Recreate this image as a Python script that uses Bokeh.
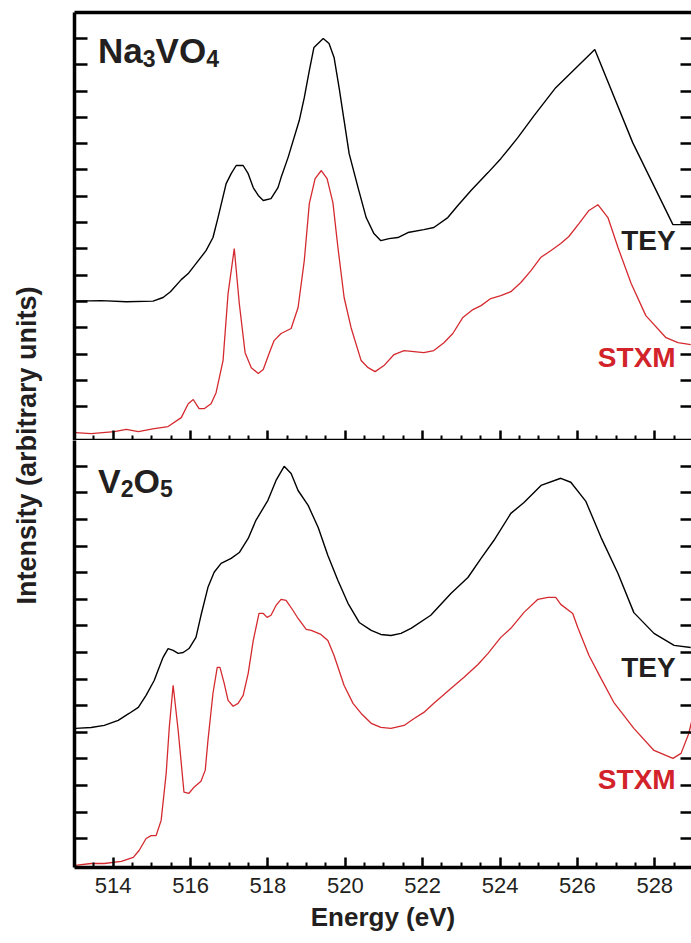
import numpy as np
from bokeh.plotting import figure
from bokeh.layouts import row, column
from bokeh.models import Range1d, FixedTicker, LinearAxis, Label, CustomJSTickFormatter
from bokeh.embed import file_html
from bokeh.resources import INLINE

# ---- axis ticks -------------------------------------------------------------
energy_ticks = [514, 516, 518, 520, 522, 524, 526, 528]
energy_minor = [float(e) for e in np.arange(513.5, 529.0, 0.5) if e not in energy_ticks]
intensity_ticks = list(range(15))

# ---- Na3VO4 spectra (energy in eV, intensity in arbitrary units) -----------
na_tey_e = [513.02, 513.69, 514.34, 515.03, 515.29, 515.48, 515.76, 515.94, 516.14, 516.40,
            516.58, 516.71, 516.92, 517.05, 517.18, 517.36, 517.49, 517.62, 517.75, 517.88,
            518.08, 518.26, 518.34, 518.52, 518.81, 518.94, 519.07, 519.19, 519.43, 519.58,
            519.71, 519.84, 519.97, 520.10, 520.33, 520.54, 520.74, 520.92, 521.13, 521.36,
            521.62, 522.03, 522.29, 522.65, 522.91, 523.25, 523.69, 524.02, 524.46, 524.88,
            525.44, 526.45, 527.43, 528.47, 528.96]
na_tey_i = [4.01, 4.03, 3.99, 4.01, 4.15, 4.37, 4.83, 5.06, 5.44, 5.93,
            6.43, 7.19, 8.48, 8.86, 9.17, 9.17, 8.86, 8.33, 8.03, 7.84,
            7.91, 8.33, 8.71, 9.47, 10.88, 11.75, 12.78, 13.66, 14.00, 13.81,
            13.28, 12.13, 10.88, 9.62, 8.33, 7.19, 6.58, 6.31, 6.39, 6.43,
            6.62, 6.73, 6.81, 7.19, 7.65, 8.22, 8.90, 9.43, 10.23, 11.07,
            12.13, 13.58, 10.04, 6.92, 6.92]

na_stxm_e = [513.02, 513.43, 514.03, 514.34, 514.65, 515.06, 515.42, 515.76, 515.94, 516.07,
             516.22, 516.35, 516.53, 516.66, 516.84, 516.97, 517.13, 517.26, 517.41, 517.57,
             517.75, 517.88, 518.03, 518.16, 518.34, 518.60, 518.78, 518.94, 519.07, 519.22,
             519.38, 519.53, 519.68, 519.81, 519.97, 520.15, 520.41, 520.59, 520.77, 521.00,
             521.26, 521.52, 522.03, 522.29, 522.55, 522.78, 523.04, 523.30, 523.51, 523.76,
             524.02, 524.28, 524.54, 524.80, 525.05, 525.31, 525.57, 525.78, 526.04, 526.30,
             526.53, 526.79, 527.05, 527.39, 527.77, 528.29, 528.60, 528.93]
na_stxm_i = [-0.99, -1.03, -0.95, -0.87, -0.95, -0.84, -0.76, -0.42, 0.11, 0.27,
             -0.08, -0.08, 0.11, 0.53, 1.75, 4.30, 6.01, 3.92, 2.05, 1.48,
             1.26, 1.41, 2.02, 2.51, 2.78, 2.97, 3.77, 5.55, 7.72, 8.67,
             8.98, 8.67, 7.76, 6.05, 4.15, 3.00, 1.75, 1.48, 1.33, 1.56,
             1.98, 2.13, 2.05, 2.13, 2.43, 2.78, 3.39, 3.69, 3.84, 4.11,
             4.22, 4.37, 4.72, 5.17, 5.67, 5.93, 6.20, 6.47, 6.96, 7.46,
             7.68, 7.19, 6.05, 4.68, 3.46, 2.62, 2.43, 2.36]

# ---- V2O5 spectra -----------------------------------------------------------
v_tey_e = [513.02, 513.43, 513.77, 514.13, 514.41, 514.65, 514.85, 515.06, 515.16, 515.29,
           515.42, 515.55, 515.68, 515.81, 515.96, 516.14, 516.27, 516.45, 516.61, 516.79,
           517.05, 517.26, 517.49, 517.69, 518.00, 518.21, 518.42, 518.60, 518.78, 519.04,
           519.30, 519.55, 519.81, 520.07, 520.36, 520.67, 520.92, 521.18, 521.44, 521.70,
           522.21, 522.73, 523.17, 523.51, 523.84, 524.28, 524.62, 525.06, 525.57, 525.83,
           526.22, 526.61, 527.05, 527.46, 527.98, 528.50, 528.93]
v_tey_i = [4.15, 4.18, 4.26, 4.45, 4.71, 4.94, 5.39, 5.95, 6.33, 6.82,
           7.15, 7.08, 6.97, 7.00, 7.15, 7.57, 8.40, 9.45, 10.02, 10.35,
           10.54, 10.76, 11.29, 11.97, 12.72, 13.47, 14.00, 13.73, 13.09, 12.53,
           11.70, 10.65, 9.71, 8.85, 8.13, 7.83, 7.68, 7.64, 7.72, 7.91,
           8.40, 9.22, 9.82, 10.54, 11.21, 12.23, 12.64, 13.28, 13.55, 13.40,
           12.68, 11.33, 9.97, 8.50, 7.72, 7.27, 7.19]

v_stxm_e = [513.02, 513.43, 513.77, 514.21, 514.52, 514.67, 514.85, 514.98, 515.11, 515.24,
            515.37, 515.45, 515.55, 515.68, 515.83, 515.96, 516.09, 516.27, 516.38, 516.45,
            516.58, 516.69, 516.76, 516.87, 516.97, 517.10, 517.23, 517.36, 517.49, 517.62,
            517.77, 517.88, 517.98, 518.08, 518.21, 518.34, 518.47, 518.65, 518.78, 518.99,
            519.12, 519.37, 519.55, 519.71, 519.97, 520.20, 520.41, 520.67, 520.92, 521.18,
            521.52, 521.78, 522.03, 522.29, 522.73, 523.07, 523.43, 523.69, 524.02, 524.28,
            524.62, 524.98, 525.24, 525.44, 525.57, 525.88, 526.01, 526.30, 526.61, 526.94,
            527.46, 527.98, 528.47, 528.68, 528.88, 528.96]
v_stxm_i = [-1.00, -0.93, -0.93, -0.85, -0.70, -0.44, 0.01, 0.12, 0.12, 0.69,
            2.46, 4.18, 5.77, 4.07, 1.75, 1.71, 1.94, 2.16, 2.58, 3.70,
            5.47, 6.44, 6.44, 5.84, 5.20, 4.98, 5.09, 5.39, 6.22, 7.45,
            8.47, 8.47, 8.32, 8.40, 8.77, 9.00, 8.96, 8.58, 8.28, 7.87,
            7.83, 7.68, 7.45, 6.89, 5.76, 5.09, 4.71, 4.34, 4.19, 4.15,
            4.26, 4.52, 4.75, 5.09, 5.65, 6.07, 6.55, 6.97, 7.57, 7.91,
            8.51, 9.00, 9.07, 9.07, 8.81, 8.47, 7.94, 6.89, 6.03, 5.13,
            4.15, 3.32, 3.02, 3.21, 3.96, 4.45]

# ---- styling ----------------------------------------------------------------
FONT = "Liberation Sans"
INK = "#231f20"
RED = "#d2232a"
LINE_RED = "#d42a2f"
SPINE_W = 3.5
X_RANGE = (513.0, 528.95)
PANEL_W = 645
LEFT_GAP = 28

blank = CustomJSTickFormatter(code="return ''")


def bare_axis(ticker, tick_in, minor_in=0, line=True):
    return LinearAxis(
        ticker=ticker, formatter=blank,
        major_tick_in=tick_in, major_tick_out=0,
        minor_tick_in=minor_in, minor_tick_out=0,
        major_tick_line_width=2.5, minor_tick_line_width=2,
        major_tick_line_color="black", minor_tick_line_color="black",
        major_label_text_font_size="0px", major_label_standoff=0,
        axis_line_width=SPINE_W, axis_line_color="black" if line else None,
    )


def panel(height, y_range, border_top, border_bottom):
    p = figure(width=PANEL_W, height=height,
               x_range=Range1d(*X_RANGE), y_range=Range1d(*y_range),
               output_backend="svg", toolbar_location=None,
               x_axis_location=None, y_axis_location=None,
               min_border_left=LEFT_GAP, min_border_right=0,
               min_border_top=border_top, min_border_bottom=border_bottom)
    p.outline_line_color = None
    p.grid.visible = False
    p.background_fill_color = "white"
    p.border_fill_color = "white"
    p.add_layout(bare_axis(FixedTicker(ticks=intensity_ticks), 13), "left")
    p.add_layout(bare_axis(FixedTicker(ticks=intensity_ticks), 11, line=False), "right")
    return p


def tag(p, x, y, text, color, size="28px", align="right"):
    p.add_layout(Label(x=x, y=y, text=text, text_align=align, text_baseline="alphabetic",
                       text_font=FONT, text_font_size=size, text_font_style="bold",
                       text_color=color))


# advance widths (em) of the bold glyphs used in the formulas
ADV = {"N": 0.722, "a": 0.556, "V": 0.667, "O": 0.778}


def formula(p, x, y, parts, size=35, sub_size=23, sub_drop=8):
    off = 0.0
    for txt, sub in parts:
        fs = sub_size if sub else size
        p.add_layout(Label(x=x, y=y, x_offset=off, y_offset=-sub_drop if sub else 0,
                           text=txt, text_align="left", text_baseline="alphabetic",
                           text_font=FONT, text_font_size=f"{fs}px",
                           text_font_style="bold", text_color=INK))
        off += sum(ADV.get(c, 0.556) for c in txt) * fs


# ---- top panel: Na3VO4 ------------------------------------------------------
top = panel(440, (-1.29, 14.99), 12, 0)
top.add_layout(LinearAxis(ticker=FixedTicker(ticks=[]), formatter=blank,
                          major_tick_in=0, major_tick_out=0, minor_tick_in=0, minor_tick_out=0,
                          major_label_text_font_size="0px", major_label_standoff=0,
                          axis_line_width=SPINE_W), "above")
top.add_layout(bare_axis(FixedTicker(ticks=energy_ticks, minor_ticks=energy_minor), 10, 5), "below")
top.line(na_tey_e, na_tey_i, line_color="black", line_width=1.4)
top.line(na_stxm_e, na_stxm_i, line_color=LINE_RED, line_width=1.3)
formula(top, 513.61, 13.56, [("Na", False), ("3", True), ("VO", False), ("4", True)])
tag(top, 528.54, 6.33, "TEY", INK)
tag(top, 528.54, 1.85, "STXM", RED)

# ---- bottom panel: V2O5 -----------------------------------------------------
bottom = panel(503, (-1.08, 14.97), 0, 76)
xax = LinearAxis(
    ticker=FixedTicker(ticks=energy_ticks, minor_ticks=energy_minor),
    major_tick_in=10, major_tick_out=0, minor_tick_in=5, minor_tick_out=0,
    major_tick_line_width=2.5, minor_tick_line_width=2,
    axis_line_width=SPINE_W,
    major_label_text_font=FONT, major_label_text_font_size="22px",
    major_label_text_color=INK, major_label_standoff=10,
    axis_label="Energy (eV)", axis_label_text_font=FONT,
    axis_label_text_font_size="26px", axis_label_text_font_style="bold",
    axis_label_text_color=INK, axis_label_standoff=6,
)
bottom.add_layout(xax, "below")
bottom.line(v_tey_e, v_tey_i, line_color="black", line_width=1.4)
bottom.line(v_stxm_e, v_stxm_i, line_color=LINE_RED, line_width=1.3)
formula(bottom, 513.61, 13.46, [("V", False), ("2", True), ("O", False), ("5", True)], size=34)
tag(bottom, 528.54, 6.43, "TEY", INK)
tag(bottom, 528.54, 2.22, "STXM", RED)

# ---- shared y-axis title ----------------------------------------------------
side = figure(width=46, height=943, x_range=Range1d(0, 46), y_range=Range1d(943, 0),
              output_backend="svg", toolbar_location=None,
              x_axis_location=None, y_axis_location=None, min_border=0)
side.outline_line_color = None
side.grid.visible = False
side.add_layout(Label(x=26, y=445, text="Intensity (arbitrary units)", angle=np.pi / 2,
                      text_align="center", text_baseline="middle", text_font=FONT,
                      text_font_size="27px", text_font_style="bold", text_color=INK))

layout = row(side, column(top, bottom))
open("out.html", "w").write(file_html(layout, INLINE))
